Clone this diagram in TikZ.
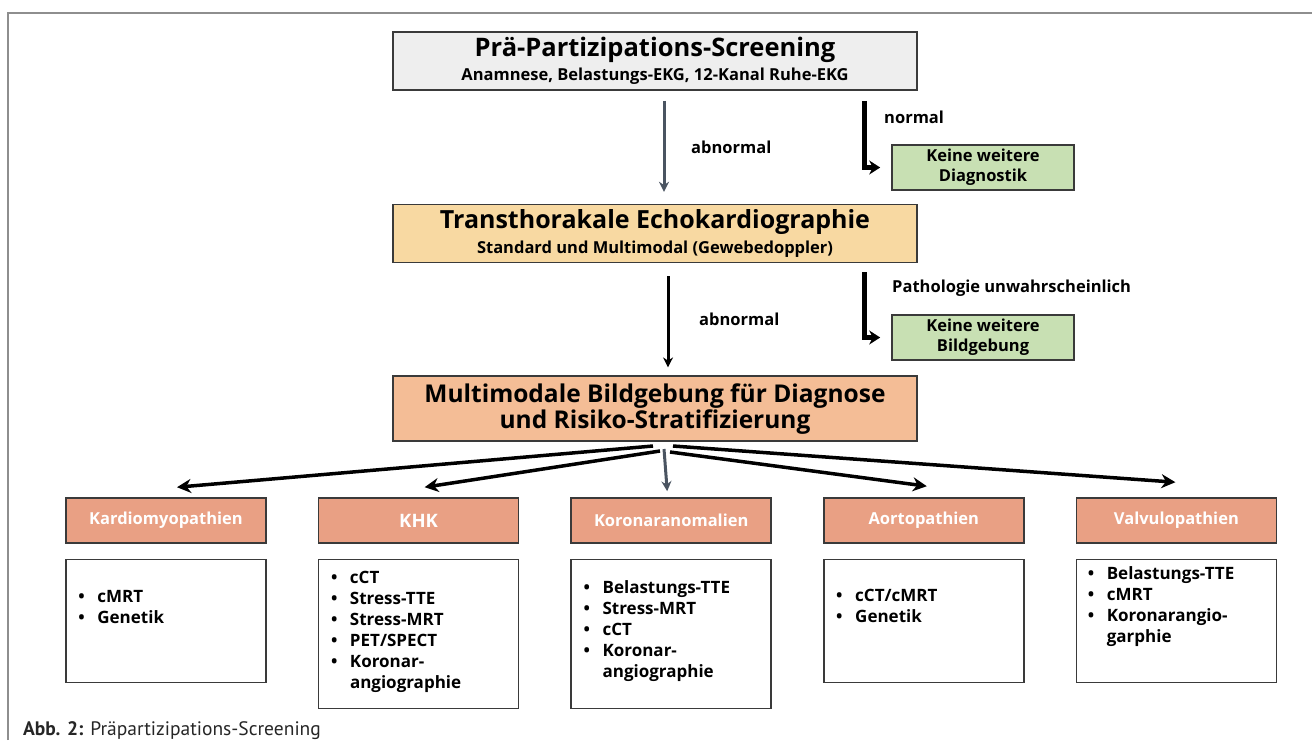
\documentclass[tikz,border=0pt]{standalone}
\usepackage{fontspec}
\setmainfont{Open Sans}
\newfontfamily\capfont{PT Sans}
\usetikzlibrary{arrows.meta,positioning,calc}

\definecolor{boxgrey}{HTML}{EEEEEE}
\definecolor{echofill}{HTML}{F8D9A2}
\definecolor{mmfill}{HTML}{F4BD96}
\definecolor{okfill}{HTML}{C8E0B3}
\definecolor{catfill}{HTML}{E9A084}
\definecolor{arrowgrey}{HTML}{4A5461}
\definecolor{framegrey}{HTML}{8E8E8E}
\definecolor{edge}{HTML}{3A3A3A}

% bullet lists inside the lower boxes
\newcommand{\bitems}[1]{\begin{tabular}{@{}p{19pt}@{}l@{}}#1\end{tabular}}
\newcommand{\bl}{\textbullet}

\begin{document}
\begin{tikzpicture}[x=1pt, y=-1pt, node distance=51pt,
    every node/.style={inner sep=0pt},
    main/.style={draw=edge, line width=1.6pt, minimum width=524pt, align=center},
    okbox/.style={draw=edge, line width=1.6pt, fill=okfill, minimum width=182pt, minimum height=45pt,
      align=center, font=\fontsize{16.5}{20}\selectfont\bfseries},
    cat/.style={draw=edge, line width=1.6pt, fill=catfill, text=white, minimum width=200pt,
      minimum height=45pt, font=\fontsize{16.5}{20}\selectfont\bfseries},
    lst/.style={draw=edge, line width=1.6pt, fill=white, minimum width=200pt},
    items/.style={anchor=north west, font=\fontsize{17}{21}\selectfont\bfseries},
    lbl/.style={anchor=base west, font=\fontsize{16.5}{20}\selectfont\bfseries},
    down/.style={-{Stealth[length=10pt,width=10pt]}, line width=3pt},
    elbow/.style={-{Stealth[length=11pt,width=14pt]}, line width=5pt},
    fan/.style={-{Stealth[length=14pt,width=14pt]}, line width=3.5pt}]
  \useasboundingbox (0,0) rectangle (1313,740);
  \draw[framegrey, line width=2pt] (8,740) -- (8,13) -- (1312,13);

  % main column
  \node[main, fill=boxgrey, minimum height=58pt, font=\fontsize{25.5}{24}\selectfont\bfseries] (pre) at (655,61)
    {Prä-Partizipations-Screening\\{\fontsize{16.5}{18}\selectfont Anamnese, Belastungs-EKG, 12-Kanal Ruhe-EKG}};
  \node[main, fill=echofill, minimum height=58pt, font=\fontsize{25}{25}\selectfont\bfseries, below=113pt of pre] (echo)
    {Transthorakale Echokardiographie\\{\fontsize{16.5}{18}\selectfont Standard und Multimodal (Gewebedoppler)}};
  \node[main, fill=mmfill, minimum height=65pt, font=\fontsize{24.5}{26}\selectfont\bfseries, below=112pt of echo] (mm)
    {Multimodale Bildgebung für Diagnose\\und Risiko-Stratifizierung};

  \node[okbox] (dia) at (983,167.5) {Keine weitere\\Diagnostik};
  \node[okbox] (bild) at (983,337.5) {Keine weitere\\Bildgebung};

  \draw[down, arrowgrey] ([xshift=9pt,yshift=-10pt]pre.south) -- ([xshift=9pt,yshift=12pt]echo.north);
  \node[lbl] (ab1) at (691,153) {abnormal};
  \draw[elbow] ([xshift=-53pt,yshift=-10pt]pre.south east) |- ([xshift=-11pt]dia.west);
  \node[lbl] (nor) at (884,123) {normal};

  \draw[down] ([xshift=13pt,yshift=-13pt]echo.south) -- ([xshift=13pt,yshift=8pt]mm.north);
  \node[lbl] (ab2) at (699,325) {abnormal};
  \draw[elbow] ([xshift=-53pt,yshift=-9pt]echo.south east) |- ([xshift=-11pt]bild.west);
  \node[lbl] (pat) at (892,292) {Pathologie unwahrscheinlich};

  % categories
  \node[cat] (kard) at (166,520.5) {Kardiomyopathien};
  \node[cat, right=of kard, font=\fontsize{18.5}{20}\selectfont\bfseries] (khk) {KHK};
  \node[cat, right=of khk] (kor) {Koronaranomalien};
  \node[cat, right=of kor] (aor) {Aortopathien};
  \node[cat, right=of aor] (val) {Valvulopathien};

  \draw[fan] ([xshift=-2pt,yshift=-4pt]mm.south) -- ([xshift=11pt,yshift=10pt]kard.north);
  \draw[fan] ([xshift=5pt,yshift=-9pt]mm.south) -- ([xshift=6pt,yshift=10pt]khk.north);
  \draw[down, arrowgrey] ([xshift=9pt,yshift=-7pt]mm.south) -- ([xshift=-4pt,yshift=6pt]kor.north);
  \draw[fan] ([xshift=15pt,yshift=-10pt]mm.south) -- ([xshift=3pt,yshift=11pt]aor.north);
  \draw[fan] ([xshift=18pt,yshift=-4pt]mm.south) -- ([xshift=-1pt,yshift=15pt]val.north);

  % lists
  \node[lst, minimum height=123pt, below=15pt of kard] (kardl) {};
  \node[lst, minimum height=149pt, below=15pt of khk] (khkl) {};
  \node[lst, minimum height=149pt, below=15pt of kor] (korl) {};
  \node[lst, minimum height=123pt, below=15pt of aor] (aorl) {};
  \node[lst, minimum height=123pt, below=15pt of val] (vall) {};

  \node[items] (kardt) at ([xshift=13pt,yshift=-29pt]kardl.north west)
    {\bitems{\bl & cMRT\\ \bl & Genetik}};
  \node[items] (khkt) at ([xshift=13pt,yshift=-10pt]khkl.north west)
    {\bitems{\bl & cCT\\ \bl & Stress-TTE\\ \bl & Stress-MRT\\ \bl & PET/SPECT\\ \bl & Koronar-\\ & angiographie}};
  \node[items] (kort) at ([xshift=13pt,yshift=-20pt]korl.north west)
    {\bitems{\bl & Belastungs-TTE\\ \bl & Stress-MRT\\ \bl & cCT\\ \bl & Koronar-\\ & angiographie}};
  \node[items] (aort) at ([xshift=13pt,yshift=-28pt]aorl.north west)
    {\bitems{\bl & cCT/cMRT\\ \bl & Genetik}};
  \node[items] (valt) at ([xshift=12pt,yshift=-6pt]vall.north west)
    {\bitems{\bl & Belastungs-TTE\\ \bl & cMRT\\ \bl & Koronarangio-\\ & garphie}};

  \node[anchor=base west, font=\capfont\fontsize{19.5}{20}\selectfont, text=black!85] (cap) at (23,735)
    {\textbf{Abb. 2:} Präpartizipations-Screening};
\end{tikzpicture}
\end{document}
